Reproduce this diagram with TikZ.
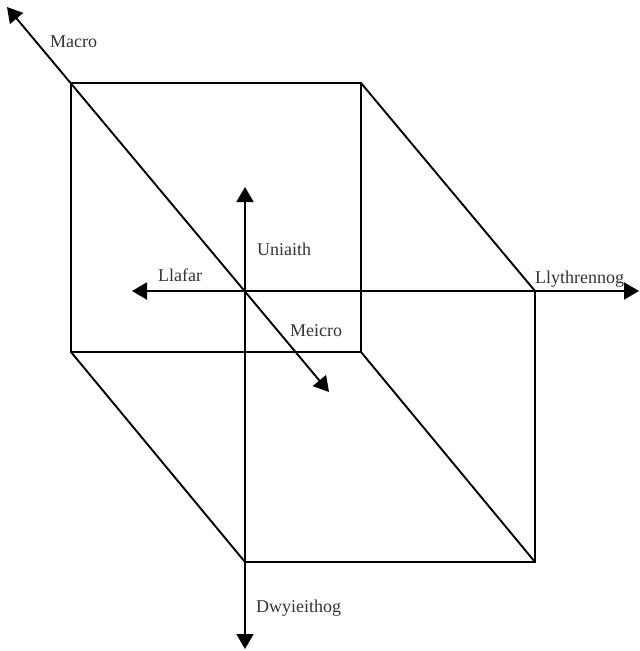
\documentclass[tikz,border=0pt]{standalone}
\usepackage{fontspec}
\setmainfont{Liberation Serif}
\usetikzlibrary{arrows.meta}

\tikzset{
    edge/.style={line width=1.9pt, line join=miter},
    axis/.style={line width=1.9pt, {Triangle[length=15pt,width=17pt]}-{Triangle[length=15pt,width=17pt]}},
    axislabel/.style={anchor=base west, inner sep=0pt, font=\fontsize{18}{21}\selectfont, text=black!80}
}

\begin{document}
\begin{tikzpicture}[x=1pt, y=-1pt]
    \useasboundingbox (0,0) rectangle (640,651);

    % Back square
    \coordinate (b1) at (71,83);
    \coordinate (b2) at (361,83);
    \coordinate (b3) at (361,352);
    \coordinate (b4) at (71,352);
    % Front square
    \coordinate (f1) at (245,291);
    \coordinate (f2) at (535,291);
    \coordinate (f3) at (535,562);
    \coordinate (f4) at (245,562);

    \draw[edge] (b1) -- (b2) -- (b3) -- (b4) -- cycle;
    \draw[edge] (f2) -- (f3) -- (f4);
    \draw[edge] (b2) -- (f2);
    \draw[edge] (b3) -- (f3);
    \draw[edge] (b4) -- (f4);

    % Axes
    \coordinate (uni) at (245,187);
    \coordinate (dwy) at (245,649);
    \coordinate (lla) at (132,291);
    \coordinate (lly) at (639,291);
    \coordinate (mac) at (7,7);
    \coordinate (mei) at (329,392);

    \draw[axis] (dwy) -- (uni);
    \draw[axis] (lla) -- (lly);
    \draw[axis] (mac) -- (mei);

    % Labels
    \node[axislabel] (macro) at (50,47) {Macro};
    \node[axislabel] (uniaith) at (257,255) {Uniaith};
    \node[axislabel] (llafar) at (158,281) {Llafar};
    \node[axislabel] (meicro) at (290,336) {Meicro};
    \node[axislabel] (llythrennog) at (535,283) {Llythrennog};
    \node[axislabel] (dwyieithog) at (256,612) {Dwyieithog};
\end{tikzpicture}
\end{document}
